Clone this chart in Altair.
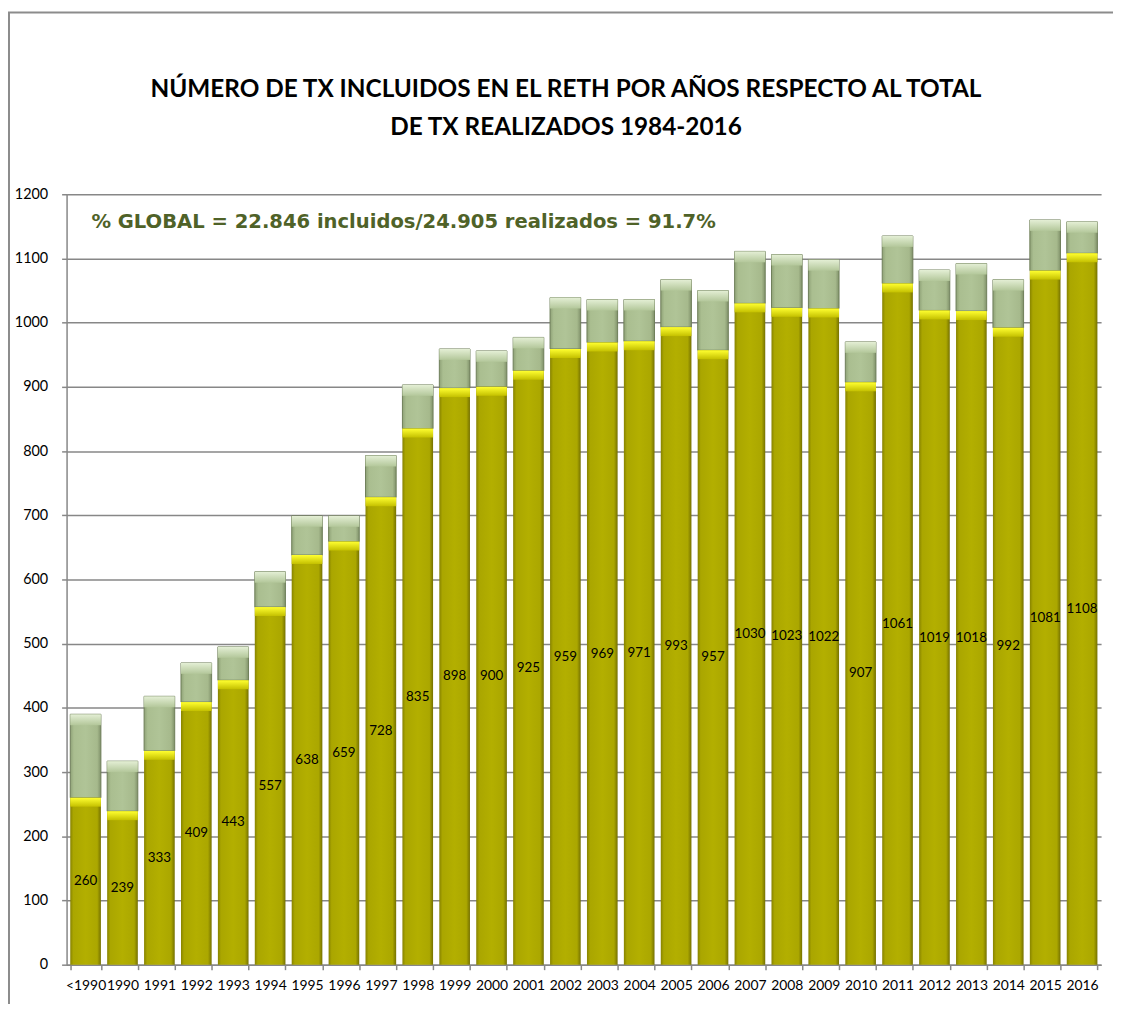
import altair as alt
import pandas as pd

categories = ["<1990", "1990", "1991", "1992", "1993", "1994", "1995", "1996",
              "1997", "1998", "1999", "2000", "2001", "2002", "2003", "2004",
              "2005", "2006", "2007", "2008", "2009", "2010", "2011", "2012",
              "2013", "2014", "2015", "2016"]
included = [260, 239, 333, 409, 443, 557, 638, 659, 728, 835, 898, 900, 925, 959,
            969, 971, 993, 957, 1030, 1023, 1022, 907, 1061, 1019, 1018, 992, 1081, 1108]
performed = [390, 317, 418, 470, 495, 612, 699, 699, 793, 903, 959, 956, 977, 1039,
             1036, 1036, 1067, 1050, 1111, 1106, 1098, 970, 1135, 1082, 1092, 1067, 1160, 1157]
y_ticks = [0, 100, 200, 300, 400, 500, 600, 700, 800, 900, 1000, 1100, 1200]
title_line1 = ["NÚMERO DE TX INCLUIDOS EN EL RETH POR AÑOS RESPECTO AL TOTAL"]
title_line2 = ["DE TX REALIZADOS 1984-2016"]
annotation = ["% GLOBAL = 22.846 incluidos/24.905 realizados = 91.7%"]

W, H = 1042, 776
GRID = "#878787"

df = pd.DataFrame({"year": categories, "incl": included, "total": performed})

x_enc = alt.X("year:N", sort=categories,
              scale=alt.Scale(paddingInner=0.17, paddingOuter=0.1),
              axis=alt.Axis(title=None, labelAngle=0, tickBand="extent", grid=False,
                            tickSize=5, labelPadding=9, labelFont="Lato",
                            labelFontSize=14, labelColor="black",
                            domainColor=GRID, tickColor=GRID, domainWidth=1.5,
                            tickWidth=1.5))
y_scale = alt.Scale(domain=[0, 1200], nice=False)
y_axis = alt.Axis(title=None, values=y_ticks, format="d", grid=True, gridColor=GRID,
                  gridWidth=1.5, tickSize=5, labelPadding=14, labelFont="Lato",
                  labelFontSize=14.5, labelColor="black", domainColor=GRID,
                  tickColor=GRID, domainWidth=1.5, tickWidth=1.5)

base = alt.Chart(df).encode(x=x_enc)

yellow_grad = alt.Gradient(gradient="linear", x1=0, x2=1, y1=0, y2=0, stops=[
    alt.GradientStop(offset=0, color="#878300"),
    alt.GradientStop(offset=0.1, color="#AAA600"),
    alt.GradientStop(offset=0.5, color="#B3AF00"),
    alt.GradientStop(offset=0.88, color="#ABA700"),
    alt.GradientStop(offset=1, color="#757100")])
green_grad = alt.Gradient(gradient="linear", x1=0, x2=1, y1=0, y2=0, stops=[
    alt.GradientStop(offset=0, color="#8FA277"),
    alt.GradientStop(offset=0.12, color="#AABE90"),
    alt.GradientStop(offset=0.5, color="#B0C497"),
    alt.GradientStop(offset=0.88, color="#A6B98C"),
    alt.GradientStop(offset=1, color="#80916A")])
green_bevel = alt.Gradient(gradient="linear", x1=0, x2=0, y1=0, y2=1, stops=[
    alt.GradientStop(offset=0, color="#E4EFD5"),
    alt.GradientStop(offset=1, color="#B3C79A")])
yellow_bevel = alt.Gradient(gradient="linear", x1=0, x2=0, y1=0, y2=1, stops=[
    alt.GradientStop(offset=0, color="#FFFF30"),
    alt.GradientStop(offset=1, color="#C4C000")])

shadow = base.mark_bar(color="black", opacity=0.06, width=alt.RelativeBandSize(1.0)).encode(
    y=alt.Y("total:Q", scale=y_scale, axis=y_axis))
green = base.mark_bar(color=green_grad, stroke="#6F7F5A", strokeWidth=1).encode(
    y=alt.Y("total:Q", scale=y_scale, axis=y_axis), y2="incl:Q")
green_top = base.mark_bar(color=green_bevel, y2Offset=11).encode(
    y=alt.Y("total:Q", scale=y_scale), y2="total:Q")
yellow = base.mark_bar(color=yellow_grad).encode(
    y=alt.Y("incl:Q", scale=y_scale))
yellow_top = base.mark_bar(color=yellow_bevel, y2Offset=9).encode(
    y=alt.Y("incl:Q", scale=y_scale), y2="incl:Q")
labels = base.transform_calculate(mid="datum.incl / 2").mark_text(
    font="Lato", fontSize=13.5, color="black").encode(
    y=alt.Y("mid:Q", scale=y_scale), text="incl:Q")

note = alt.Chart(pd.DataFrame({"t": annotation})).mark_text(
    align="left", baseline="middle", font="DejaVu Sans", fontWeight="bold",
    fontSize=19.7, color="#4F6228").encode(
    x=alt.value(25), y=alt.value(28), text="t:N")

title1 = alt.Chart(pd.DataFrame({"t": title_line1})).mark_text(
    align="center", baseline="middle", font="Lato", fontWeight="bold",
    fontSize=24.5, color="black").encode(
    x=alt.value(503), y=alt.value(-105), text="t:N")
title2 = alt.Chart(pd.DataFrame({"t": title_line2})).mark_text(
    align="center", baseline="middle", font="Lato", fontWeight="bold",
    fontSize=24.5, color="black").encode(
    x=alt.value(503), y=alt.value(-67), text="t:N")

border = alt.Chart(pd.DataFrame({"t": annotation})).mark_rect(
    fillOpacity=0, stroke="#8C8C8C", strokeWidth=2).encode(
    x=alt.value(-58), x2=alt.value(W + 80), y=alt.value(-183), y2=alt.value(H + 80))

chart = alt.layer(border, shadow, green, green_top, yellow, yellow_top, labels, note,
                  title1, title2).properties(
    width=W, height=H,
    autosize=alt.AutoSizeParams(type="none"),
    padding={"left": 59, "top": 184, "right": 12, "bottom": 36},
).configure_view(stroke=None)

chart.save("out.html", embed_options={"renderer": "svg", "actions": False})
